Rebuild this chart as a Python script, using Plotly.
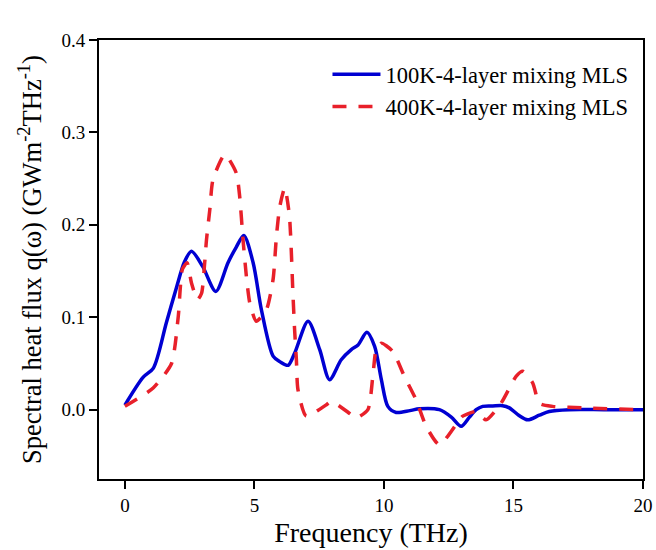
import plotly.graph_objects as go

# Blue: 100K-4-layer mixing MLS
freq_100k = [0, 0.7, 1.1, 1.6, 2.0, 2.3, 2.57, 3.0, 3.51, 3.98, 4.3, 4.59, 4.95, 5.27, 5.72, 5.98, 6.3,
             6.55, 7.07, 7.52, 7.9, 8.35, 8.74, 9.0, 9.34, 9.64, 9.9, 10.15, 10.47, 11.0, 11.37,
             12.14, 12.6, 12.98, 13.3, 13.56, 13.81, 14.2, 14.58, 14.84, 15.2, 15.55, 16.0, 16.38,
             17.15, 18.5, 20.0]
flux_100k = [0.005, 0.035, 0.045, 0.094, 0.133, 0.160, 0.1715, 0.155, 0.128, 0.159, 0.176, 0.1885,
             0.159, 0.108, 0.058, 0.052, 0.048, 0.061, 0.0957, 0.065, 0.0325, 0.054, 0.065, 0.070,
             0.0838, 0.0686, 0.0325, 0.0036, -0.003, -0.001, 0.001, 0.0, -0.008, -0.018, -0.008,
             0.0, 0.0036, 0.004, 0.0043, 0.002, -0.006, -0.011, -0.006, -0.002, 0.0, 0.0, 0.0]

# Red dashed: 400K-4-layer mixing MLS
freq_400k = [0, 1.09, 1.8, 2.06, 2.22, 2.4, 2.57, 2.8, 2.96, 3.08, 3.15, 3.28, 3.4, 3.86, 4.3,
             4.43, 4.56, 4.69, 4.82, 5.07, 5.46, 5.72, 5.85, 5.98, 6.17, 6.35, 6.49, 6.55, 6.62,
             6.68, 7.0, 7.78, 7.97, 8.74, 8.93, 9.38, 9.57, 9.7, 9.9, 10.34, 10.79, 11.24, 11.63,
             12.14, 12.91, 13.04, 13.56, 13.94, 14.52, 15.1, 15.36, 15.74, 16.0, 16.51, 17.67,
             20.0]
flux_400k = [0.0036, 0.0235, 0.05, 0.101, 0.152, 0.159, 0.137, 0.119, 0.126, 0.159, 0.184, 0.217,
             0.249, 0.276, 0.256, 0.231, 0.184, 0.144, 0.1156, 0.0957, 0.108, 0.141, 0.188, 0.22,
             0.240, 0.210, 0.123, 0.087, 0.054, 0.0217, -0.007, 0.0054, 0.009, -0.0054, -0.009,
             0.0, 0.036, 0.065, 0.072, 0.063, 0.036, 0.0108, -0.018, -0.038, -0.011, -0.007,
             -0.002, -0.011, 0.007, 0.036, 0.0415, 0.029, 0.007, 0.0036, 0.002, 0.0]

x_ticks = [0, 5, 10, 15, 20]
y_ticks = [0.0, 0.1, 0.2, 0.3, 0.4]

FONT = "'Liberation Serif', 'Times New Roman', serif"

fig = go.Figure()
fig.add_trace(go.Scatter(
    x=freq_100k, y=flux_100k, mode="lines", name="100K-4-layer mixing MLS",
    line=dict(color="rgb(0,0,210)", width=3.5, shape="spline", smoothing=0.8),
))
fig.add_trace(go.Scatter(
    x=freq_400k, y=flux_400k, mode="lines", name="400K-4-layer mixing MLS",
    line=dict(color="rgb(232,32,42)", width=3.5, dash="14px,12px", shape="spline", smoothing=0.6),
))

fig.update_layout(
    width=656, height=550,
    margin=dict(l=99, r=13, t=40, b=71, autoexpand=False),
    paper_bgcolor="white", plot_bgcolor="white",
    font=dict(family=FONT, color="black"),
    showlegend=True,
    legend=dict(
        x=0.42, y=0.97, xanchor="left", yanchor="top",
        font=dict(family=FONT, size=22.5, color="black"),
        bgcolor="rgba(0,0,0,0)", itemwidth=48, tracegroupgap=0,
    ),
    xaxis=dict(
        range=[-1, 20], tickvals=x_ticks, ticktext=[str(v) for v in x_ticks],
        showline=True, linecolor="black", linewidth=2, mirror=True,
        ticks="outside", ticklen=8, tickwidth=2, tickcolor="black",
        showgrid=False, zeroline=False, automargin=False,
        tickfont=dict(family=FONT, size=19, color="black"),
        title=dict(text="Frequency (THz)", font=dict(family=FONT, size=28, color="black"), standoff=8),
    ),
    yaxis=dict(
        range=[-0.075, 0.4], tickvals=y_ticks, ticktext=[f"{v:.1f}" for v in y_ticks],
        showline=True, linecolor="black", linewidth=2, mirror=True,
        ticks="outside", ticklen=8, tickwidth=2, tickcolor="black",
        showgrid=False, zeroline=False, automargin=False,
        tickfont=dict(family=FONT, size=19, color="black"),
        title=dict(text="Spectral heat flux q(\u03c9) (GWm<sup>-2</sup>THz<sup>-1</sup>)",
                   font=dict(family=FONT, size=26.5, color="black"), standoff=12),
    ),
)

fig.write_html("out.html")
